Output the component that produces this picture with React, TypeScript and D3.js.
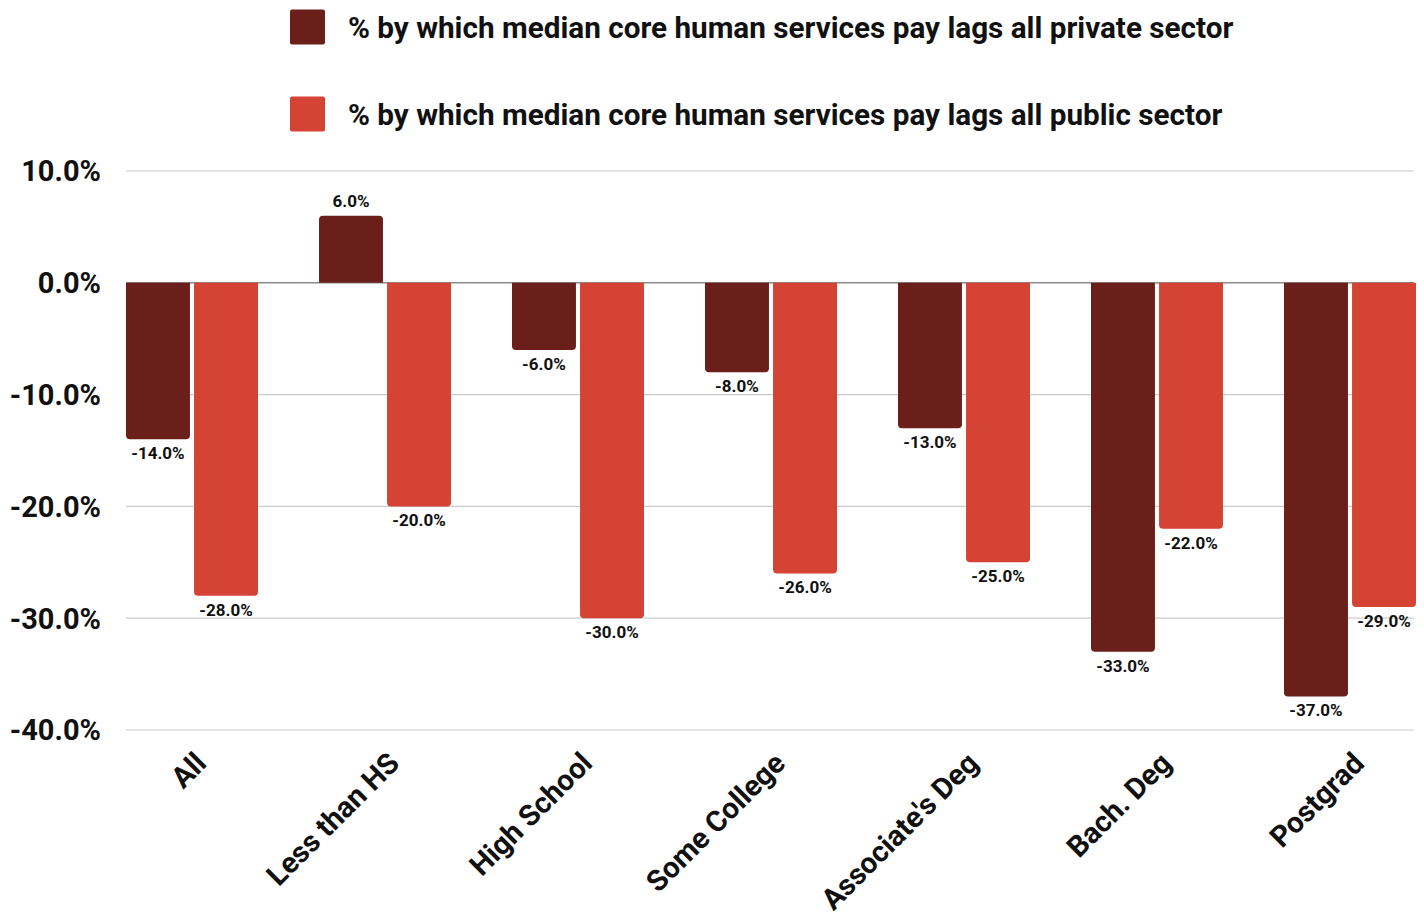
import React, { useEffect, useRef } from "react";
import * as d3 from "d3";

const categories = ["All", "Less than HS", "High School", "Some College", "Associate's Deg", "Bach. Deg", "Postgrad"];
const seriesNames = [
  "% by which median core human services pay lags all private sector",
  "% by which median core human services pay lags all public sector",
];
const privateLag = [-14, 6, -6, -8, -13, -33, -37];
const publicLag = [-28, -20, -30, -26, -25, -22, -29];
const yTicks = [10, 0, -10, -20, -30, -40];
const colors = ["#6a1f1a", "#d44333"];

const W = 1424;
const H = 917;
const FONT = "Roboto, 'Noto Sans', sans-serif";
const pct = (v: number) => d3.format(".1f")(v).replace("\u2212", "-") + "%";

function barPath(x: number, w: number, y0: number, y1: number, r: number) {
  const up = y1 < y0;
  const h = Math.abs(y1 - y0);
  const rr = Math.min(r, h / 2, w / 2);
  if (up) {
    return `M${x},${y0}V${y1 + rr}Q${x},${y1} ${x + rr},${y1}H${x + w - rr}Q${x + w},${y1} ${x + w},${y1 + rr}V${y0}Z`;
  }
  return `M${x},${y0}V${y1 - rr}Q${x},${y1} ${x + rr},${y1}H${x + w - rr}Q${x + w},${y1} ${x + w},${y1 - rr}V${y0}Z`;
}

export default function App() {
  const ref = useRef<SVGSVGElement>(null);
  useEffect(() => {
    document.body.style.margin = "0";
    const svg = d3.select(ref.current);
    svg.selectAll("*").remove();

    const left = 126;
    const right = 1414;
    const y = d3.scaleLinear().domain([-40, 10]).range([730, 171]);
    const x0 = d3
      .scaleBand<string>()
      .domain(categories)
      .range([left, 1416])
      .paddingInner(61 / 193)
      .paddingOuter(0);
    const x1 = d3.scaleBand<number>().domain([0, 1]).range([0, x0.bandwidth()]).paddingInner(0.06);

    const g = svg.append("g");
    g.selectAll("line.grid")
      .data(yTicks)
      .join("line")
      .attr("x1", left)
      .attr("x2", right)
      .attr("y1", (d) => y(d))
      .attr("y2", (d) => y(d))
      .attr("stroke", (d) => (d === 0 ? "#8a8a8a" : "#cccccc"))
      .attr("stroke-width", (d) => (d === 0 ? 1.5 : 1.2));

    g.selectAll("text.ytick")
      .data(yTicks)
      .join("text")
      .attr("x", 101)
      .attr("y", (d) => y(d))
      .attr("dy", "0.36em")
      .attr("text-anchor", "end")
      .attr("font-family", FONT)
      .attr("font-weight", 700)
      .attr("font-size", 29)
      .attr("fill", "#111")
      .text((d) => pct(d));

    const series = [privateLag, publicLag];
    series.forEach((vals, si) => {
      const sg = svg.append("g");
      sg.selectAll("path")
        .data(vals)
        .join("path")
        .attr("d", (v, i) =>
          barPath(x0(categories[i])! + x1(si)!, x1.bandwidth(), y(0), y(v), 4)
        )
        .attr("fill", colors[si]);
      sg.selectAll("text")
        .data(vals)
        .join("text")
        .attr("x", (v, i) => x0(categories[i])! + x1(si)! + x1.bandwidth() / 2)
        .attr("y", (v) => (v >= 0 ? y(v) - 9 : y(v) + 20))
        .attr("text-anchor", "middle")
        .attr("font-family", FONT)
        .attr("font-weight", 700)
        .attr("font-size", 17)
        .attr("fill", "#111")
        .text((v) => pct(v));
    });

    svg
      .append("g")
      .selectAll("text")
      .data(categories)
      .join("text")
      .attr("transform", (c) => {
        const cx = x0(c)! + x0.bandwidth() / 2 + 16;
        return `translate(${cx},${765}) rotate(-45)`;
      })
      .attr("text-anchor", "end")
      .attr("font-family", FONT)
      .attr("font-weight", 700)
      .attr("font-size", 29.2)
      .attr("fill", "#111")
      .text((c) => c);

    const lg = svg.append("g");
    seriesNames.forEach((name, i) => {
      const cy = 27 + i * 87;
      lg.append("rect")
        .attr("x", 290)
        .attr("y", cy - 17.5)
        .attr("width", 35)
        .attr("height", 35)
        .attr("rx", 2)
        .attr("fill", colors[i]);
      lg.append("text")
        .attr("x", 348)
        .attr("y", cy)
        .attr("dy", "0.36em")
        .attr("font-family", FONT)
        .attr("font-weight", 700)
        .attr("font-size", 29.7)
        .attr("fill", "#111")
        .text(name);
    });
  }, []);

  return <svg ref={ref} width={W} height={H} style={{ display: "block", background: "#fff" }} />;
}
